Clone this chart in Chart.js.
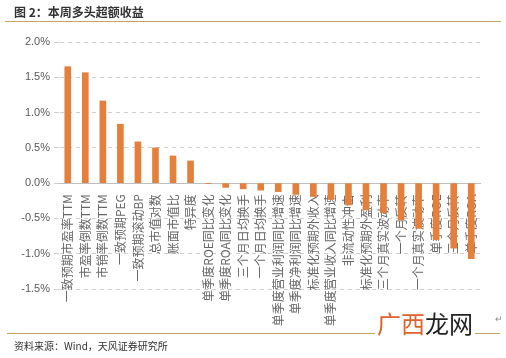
<!DOCTYPE html>
<html>
<head>
<meta charset="utf-8">
<script src="https://cdn.jsdelivr.net/npm/chart.js@4/dist/chart.umd.min.js"></script>
<style>
  body { margin: 0; background: #fff; font-family: "Liberation Sans", "Noto Sans CJK SC", sans-serif; }
  #wrap { position: relative; width: 506px; height: 358px; overflow: hidden; }
  #myChart { position: absolute; left: 0; top: 0; }
  .title { position: absolute; left: 14px; top: 3px; font-size: 12px; font-weight: bold; color: #333; font-family: "Noto Sans CJK SC", sans-serif; }
  .rule { position: absolute; height: 1px; background: #c9a45c; }
  .src { position: absolute; left: 14px; top: 338px; font-size: 10px; color: #333; font-family: "Noto Sans CJK SC", sans-serif; }
  .mark { position: absolute; left: 375px; top: 309px; font-size: 24px; line-height: 28px; background: #fff; padding: 0 2px; font-family: "Noto Sans CJK SC", sans-serif; }
  .ret { position: absolute; left: 495px; top: 314px; font-size: 9px; color: #888; }
</style>
</head>
<body>
<div id="wrap">
  <canvas id="myChart" width="506" height="358"></canvas>
  <div class="title">图 2：本周多头超额收益</div>
  <div class="rule" style="left:5px; top:21px; width:496px;"></div>
  <div class="rule" style="left:7px; top:333px; width:493px;"></div>
  <div class="mark"><span style="color:#e0622a">广西</span><span style="color:#222">龙网</span></div>
  <div class="ret">↵</div>
  <div class="src">资料来源：Wind，天风证券研究所</div>
</div>
<script>
  const factors = [
    '一致预期市盈率TTM', '市盈率倒数TTM', '市销率倒数TTM', '一致预期PEG', '一致预期滚动BP',
    '总市值对数', '账面市值比', '特异度', '单季度ROE同比变化', '单季度ROA同比变化',
    '三个月日均换手', '一个月日均换手', '单季度营业利润同比增速', '单季度净利润同比增速',
    '标准化预期外收入', '单季度营业收入同比增速', '非流动性冲击', '标准化预期外盈利',
    '三个月真实波动率', '一个月反转', '一个月真实波动率', '单季度ROE', '三个月反转', '单季度ROA'
  ];
  const excessReturn = [
    1.65, 1.565, 1.165, 0.835, 0.585,
    0.50, 0.385, 0.315, -0.005, -0.06,
    -0.08, -0.10, -0.12, -0.16,
    -0.19, -0.23, -0.31, -0.38,
    -0.42, -0.52, -0.64, -0.80, -0.92, -1.07
  ];
  const yTicks = [-1.5, -1.0, -0.5, 0.0, 0.5, 1.0, 1.5, 2.0];

  const ctx = document.getElementById('myChart').getContext('2d');
  const myChart = new Chart(ctx, {
    type: 'bar',
    data: {
      labels: factors,
      datasets: [{
        label: '本周多头超额收益',
        data: excessReturn,
        backgroundColor: '#e4803c',
        barThickness: 6
      }]
    },
    options: {
      responsive: false,
      animation: false,
      layout: { padding: { left: 0, right: 26, top: 42, bottom: 69 } },
      plugins: { legend: { display: false }, tooltip: { enabled: false } },
      scales: {
        x: {
          position: { y: 0 },
          afterFit: s => { s.height = 0; },
          grid: { display: false },
          border: { display: true, color: '#bfbfbf', width: 1 },
          ticks: {
            autoSkip: false,
            minRotation: 90,
            maxRotation: 90,
            padding: 3,
            color: '#666',
            font: { size: 12, family: '"Noto Sans CJK SC", sans-serif' }
          }
        },
        y: {
          min: -1.5,
          max: 2.0,
          afterFit: s => { s.width = 59; },
          afterBuildTicks: s => { s.ticks = yTicks.map(v => ({ value: v })); },
          grid: { color: '#cfcfcf', tickLength: 5, tickColor: '#cfcfcf' },
          border: { display: true, color: 'rgba(0,0,0,0)', dash: [4, 4] },
          ticks: {
            padding: 4,
            color: '#595959',
            font: { size: 11, family: '"Liberation Sans", sans-serif' },
            callback: v => v.toFixed(1) + '%'
          }
        }
      }
    }
  });
</script>
</body>
</html>
